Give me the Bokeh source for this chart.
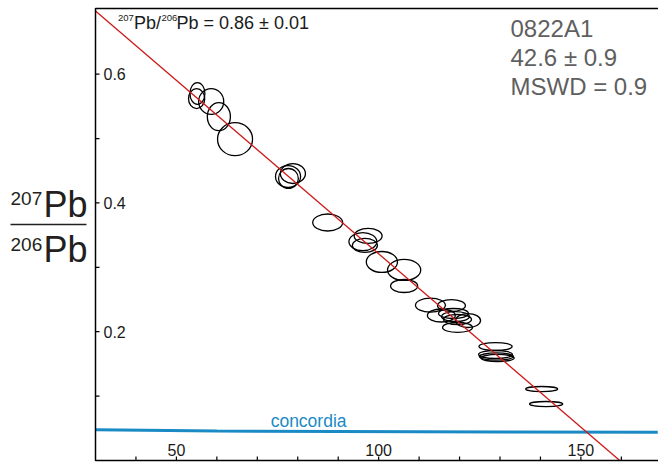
import math
from bokeh.plotting import figure
from bokeh.models import Range1d, Label
from bokeh.embed import file_html
from bokeh.resources import INLINE
from bokeh.core.properties import value

# ---- data ----
ell_x = [55.2, 55.0, 58.6, 60.5, 64.5, 77.6, 78.8, 77.7, 87.4, 97.4, 96.1, 96.6,
         100.8, 106.3, 106.3, 112.8, 118.0, 115.5, 118.5, 119.0, 119.5, 122.1,
         119.5, 128.9, 128.9, 129.1, 129.4, 140.3, 141.4]
ell_y = [0.570, 0.562, 0.5575, 0.534, 0.499, 0.441, 0.4457, 0.438, 0.3696, 0.3487,
         0.340, 0.334, 0.3083, 0.2959, 0.271, 0.2412, 0.2407, 0.2252, 0.2283,
         0.2236, 0.219, 0.2174, 0.2066, 0.177, 0.1646, 0.1615, 0.1592, 0.111, 0.0877]
ell_w = [3.7, 4.0, 6.2, 5.7, 8.65, 6.2, 6.2, 4.9, 7.4, 6.9, 6.9, 6.2, 7.7, 8.2,
         6.7, 7.4, 6.9, 6.9, 7.4, 6.9, 6.9, 6.2, 7.4, 8.2, 8.4, 8.4, 8.2, 7.9, 8.2]
ell_h = [0.034, 0.031, 0.040, 0.0435, 0.0512, 0.034, 0.031, 0.031, 0.0264, 0.0233,
         0.028, 0.0217, 0.0326, 0.0326, 0.0202, 0.0217, 0.0186, 0.0202, 0.0155,
         0.0155, 0.0155, 0.0217, 0.0155, 0.0124, 0.0124, 0.011, 0.011, 0.0078, 0.0078]

conc_x = [30, 60, 90, 130, 169]
conc_y = [0.0477, 0.0458, 0.0450, 0.0443, 0.0440]

reg_x = [30.0, 159.6]
reg_y = [0.698, 0.0]

x_ticks = [40, 50, 60, 70, 80, 90, 100, 110, 120, 130, 140, 150, 160]
y_ticks = [0.1, 0.2, 0.3, 0.4, 0.5, 0.6]
x_label_vals = [50, 100, 150]
x_label_text = ["50", "100", "150"]
y_label_vals = [0.2, 0.4, 0.6]
y_label_text = ["0.2", "0.4", "0.6"]

# ---- axes box (data units) ----
AX_X0 = 30.0
AX_Y0, AX_Y1 = 0.0, 0.702
W, H = 658, 462
PX_PER_X = 4.045
PX_PER_Y = 643.9
LEFT_PX, BOTTOM_PX = 95, 460    # page pixel of the axes corner

X_LO = AX_X0 - LEFT_PX / PX_PER_X
X_HI = AX_X0 + (W - LEFT_PX) / PX_PER_X
Y_HI = AX_Y0 + BOTTOM_PX / PX_PER_Y
Y_LO = AX_Y0 - (H - BOTTOM_PX) / PX_PER_Y

FONT = "Liberation Sans"

p = figure(width=W, height=H, x_range=Range1d(X_LO, X_HI), y_range=Range1d(Y_LO, Y_HI),
           output_backend="svg", toolbar_location=None,
           min_border_left=0, min_border_right=0, min_border_top=0, min_border_bottom=0)
p.title.visible = False
p.xaxis.visible = False
p.yaxis.visible = False
p.xgrid.visible = False
p.ygrid.visible = False
p.outline_line_color = None
p.background_fill_color = "white"
p.border_fill_color = "white"

# concordia
p.line(conc_x, conc_y, line_color="#1a8ac4", line_width=3)

# ellipses
p.ellipse(x=ell_x, y=ell_y, width=ell_w, height=ell_h, fill_color=None,
          line_color="black", line_width=1.3)

# regression line
p.line(reg_x, reg_y, line_color="#cc1a1a", line_width=1.3)

# axes box: left, bottom, top
p.line([X_HI, AX_X0, AX_X0, X_HI], [AX_Y1, AX_Y1, AX_Y0, AX_Y0],
       line_color="black", line_width=1.5)

# inward ticks
p.ray(x=[AX_X0] * len(y_ticks), y=y_ticks, length=4, length_units="screen",
      angle=0, line_color="black", line_width=1.2)
p.ray(x=x_ticks, y=[AX_Y0] * len(x_ticks), length=4, length_units="screen",
      angle=math.pi / 2, line_color="black", line_width=1.2)

# tick labels inside the frame
p.text(x=x_label_vals, y=[AX_Y0] * len(x_label_vals), text=x_label_text,
       text_font=value(FONT), text_font_size="16px", text_align="center",
       text_baseline="middle", y_offset=-10.6, text_color="#1a1a1a")
p.text(x=[AX_X0] * len(y_label_vals), y=y_label_vals, text=y_label_text,
       text_font=value(FONT), text_font_size="16px", text_align="left",
       text_baseline="middle", x_offset=8, text_color="#1a1a1a")

p.add_layout(Label(x=73.3, y=0.0621, text="concordia", text_font=FONT,
                   text_font_size="17.5px", text_color="#1a8ac4",
                   text_baseline="middle"))


def lab(cx, cy, text, size, color="#1a1a1a"):
    # cx: left edge, cy: vertical middle of the text, in page pixels
    p.add_layout(Label(x=cx, y=H - cy, x_units="screen", y_units="screen",
                       text=text, text_font=FONT, text_font_size=size,
                       text_color=color, text_baseline="middle"))


# top-left ratio annotation
lab(117.5, 17.7, "207", "9.5px")
lab(133.5, 22.7, "Pb/", "18px")
lab(161, 17.7, "206", "9.5px")
lab(176, 22.7, "Pb = 0.86 \u00b1 0.01", "18px")

# sample info
lab(510, 27.6, "0822A1", "24px", "#5f5f5f")
lab(510, 56.6, "42.6 \u00b1 0.9", "24px", "#5f5f5f")
lab(510, 85.6, "MSWD = 0.9", "24px", "#5f5f5f")

# y-axis fraction label
lab(10, 198.4, "207", "19px", "#231f20")
lab(43, 204.4, "Pb", "36px", "#231f20")
lab(10, 244.4, "206", "19px", "#231f20")
lab(43, 249.4, "Pb", "36px", "#231f20")
frac_x = [AX_X0 - (LEFT_PX - 10) / PX_PER_X, AX_X0 - (LEFT_PX - 86) / PX_PER_X]
frac_y = [(BOTTOM_PX - 224) / PX_PER_Y] * 2
p.line(frac_x, frac_y, line_color="#231f20", line_width=1.6)

open("out.html", "w").write(file_html(p, INLINE))
